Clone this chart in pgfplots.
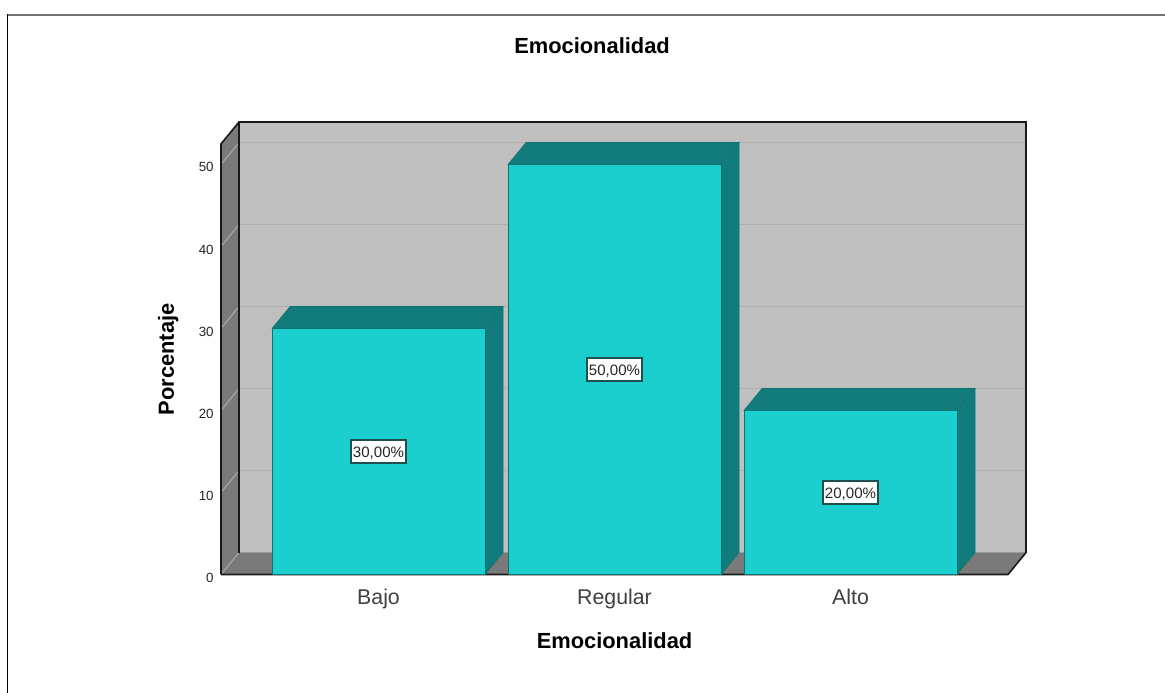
\documentclass[border=0pt]{standalone}
\usepackage{pgfplots}
\pgfplotsset{compat=1.18}
\usepackage{fontspec}
\setmainfont{Liberation Sans}
\definecolor{wall}{HTML}{BFBFBF}
\definecolor{side}{HTML}{7A7A7A}
\definecolor{gridback}{HTML}{AFAFAF}
\definecolor{gridside}{HTML}{A8A8A8}
\definecolor{barface}{HTML}{1CCFCF}
\definecolor{bardark}{HTML}{127C7C}
\definecolor{baredge}{HTML}{0F7272}
\definecolor{boxedge}{HTML}{1F4F4F}
\tikzset{valuebox/.style={draw=boxedge,line width=1.1pt,fill=white,inner sep=0pt,
  minimum width=41.5pt,minimum height=17.5pt,text height=9pt,text depth=0pt,
  font=\fontsize{11.3}{12}\selectfont,text=black!85}}
\begin{document}
\begin{tikzpicture}
\path[use as bounding box] (0,0) rectangle (873.75pt,519.75pt);
\fill[white] (0,0) rectangle (873.75pt,519.75pt);
% outer frame: only the top and left rules are visible
\draw[black!55,line width=1.2pt] (5.2pt,508.5pt) -- (873.75pt,508.5pt);
\draw[black,line width=1pt] (5.4pt,0) -- (5.4pt,508.9pt);
\begin{axis}[
  at={(165.75pt,88.875pt)},anchor=south west,
  scale only axis,width=603.75pt,height=339.375pt,
  xmin=-0.6674,xmax=2.7436,ymin=0,ymax=55.18,
  enlargelimits=false,clip=false,
  axis line style={draw=none},
  major tick length=0pt,
  xtick={0,1,2},xticklabels={Bajo,Regular,Alto},
  ytick={0,10,20,30,40,50},
  /pgf/number format/assume math mode=true,
  x tick label style={font=\fontsize{16}{18}\selectfont,text=black!75,yshift=-7pt},
  y tick label style={font=\fontsize{10}{12}\selectfont,text=black!85,xshift=-2pt,yshift=-2.2pt},
  title={\bfseries Emocionalidad},
  title style={font=\fontsize{16.4}{18}\selectfont,at={(axis cs:0.9047,55.18)},anchor=south,yshift=41.75pt},
  xlabel={\bfseries Emocionalidad},
  xlabel style={font=\fontsize{16.4}{18}\selectfont,at={(axis cs:1,0)},anchor=north,yshift=-40pt},
  ylabel={\bfseries Porcentaje},
  ylabel style={font=\fontsize{16.4}{18}\selectfont,at={(axis cs:-0.6674,26.25)},anchor=south,xshift=0pt,yshift=28.5pt},
]
% back wall, left wall and floor of the chart box
\addplot[fill=wall,draw=none] coordinates {(-0.5911,2.68)(2.7436,2.68)(2.7436,55.18)(-0.5911,55.18)} -- cycle;
\addplot[fill=side,draw=none] coordinates {(-0.6674,0)(-0.5911,2.68)(-0.5911,55.18)(-0.6674,52.5)} -- cycle;
\addplot[fill=side,draw=none] coordinates {(-0.6674,0)(2.6674,0)(2.7436,2.68)(-0.5911,2.68)} -- cycle;
% grid lines on the back wall
\addplot[gridback,line width=1.1pt] coordinates {(-0.5911,12.68)(2.7436,12.68)};
\addplot[gridback,line width=1.1pt] coordinates {(-0.5911,22.68)(2.7436,22.68)};
\addplot[gridback,line width=1.1pt] coordinates {(-0.5911,32.68)(2.7436,32.68)};
\addplot[gridback,line width=1.1pt] coordinates {(-0.5911,42.68)(2.7436,42.68)};
\addplot[gridback,line width=1.1pt] coordinates {(-0.5911,52.68)(2.7436,52.68)};
\addplot[black!40,line width=1.4pt] coordinates {(-0.5911,2.68)(2.7436,2.68)};
% grid lines on the left wall
\addplot[gridside,line width=0.8pt] coordinates {(-0.6674,0)(-0.5911,2.68)};
\addplot[gridside,line width=0.8pt] coordinates {(-0.6674,10)(-0.5911,12.68)};
\addplot[gridside,line width=0.8pt] coordinates {(-0.6674,20)(-0.5911,22.68)};
\addplot[gridside,line width=0.8pt] coordinates {(-0.6674,30)(-0.5911,32.68)};
\addplot[gridside,line width=0.8pt] coordinates {(-0.6674,40)(-0.5911,42.68)};
\addplot[gridside,line width=0.8pt] coordinates {(-0.6674,50)(-0.5911,52.68)};
% box outline
\addplot[black!90,line width=1.2pt] coordinates {(-0.6674,0)(-0.6674,52.5)(-0.5911,55.18)(2.7436,55.18)(2.7436,2.68)(2.6674,0)(-0.6674,0)};
\addplot[black!90,line width=1.2pt] coordinates {(-0.5911,2.68)(-0.5911,55.18)};
% top and side faces of the bars
\addplot[fill=bardark,draw=baredge,line width=0.4pt] coordinates {(-0.4513,30)(-0.375,32.68)(0.5275,32.68)(0.4513,30)} -- cycle;
\addplot[fill=bardark,draw=baredge,line width=0.4pt] coordinates {(0.4513,0)(0.5275,2.68)(0.5275,32.68)(0.4513,30)} -- cycle;
\addplot[fill=bardark,draw=baredge,line width=0.4pt] coordinates {(0.5487,50)(0.625,52.68)(1.5275,52.68)(1.4513,50)} -- cycle;
\addplot[fill=bardark,draw=baredge,line width=0.4pt] coordinates {(1.4513,0)(1.5275,2.68)(1.5275,52.68)(1.4513,50)} -- cycle;
\addplot[fill=bardark,draw=baredge,line width=0.4pt] coordinates {(1.5487,20)(1.625,22.68)(2.5275,22.68)(2.4513,20)} -- cycle;
\addplot[fill=bardark,draw=baredge,line width=0.4pt] coordinates {(2.4513,0)(2.5275,2.68)(2.5275,22.68)(2.4513,20)} -- cycle;
% front faces
\addplot[ybar,bar width=159.75pt,bar shift=0pt,fill=barface,draw=baredge,line width=0.4pt]
  coordinates {(0,30)(1,50)(2,20)};
% value labels, halfway up each bar
\node[valuebox] at (axis cs:0,15) {30,00\%};
\node[valuebox] at (axis cs:1,25) {50,00\%};
\node[valuebox] at (axis cs:2,10) {20,00\%};
\end{axis}
\end{tikzpicture}
\end{document}
